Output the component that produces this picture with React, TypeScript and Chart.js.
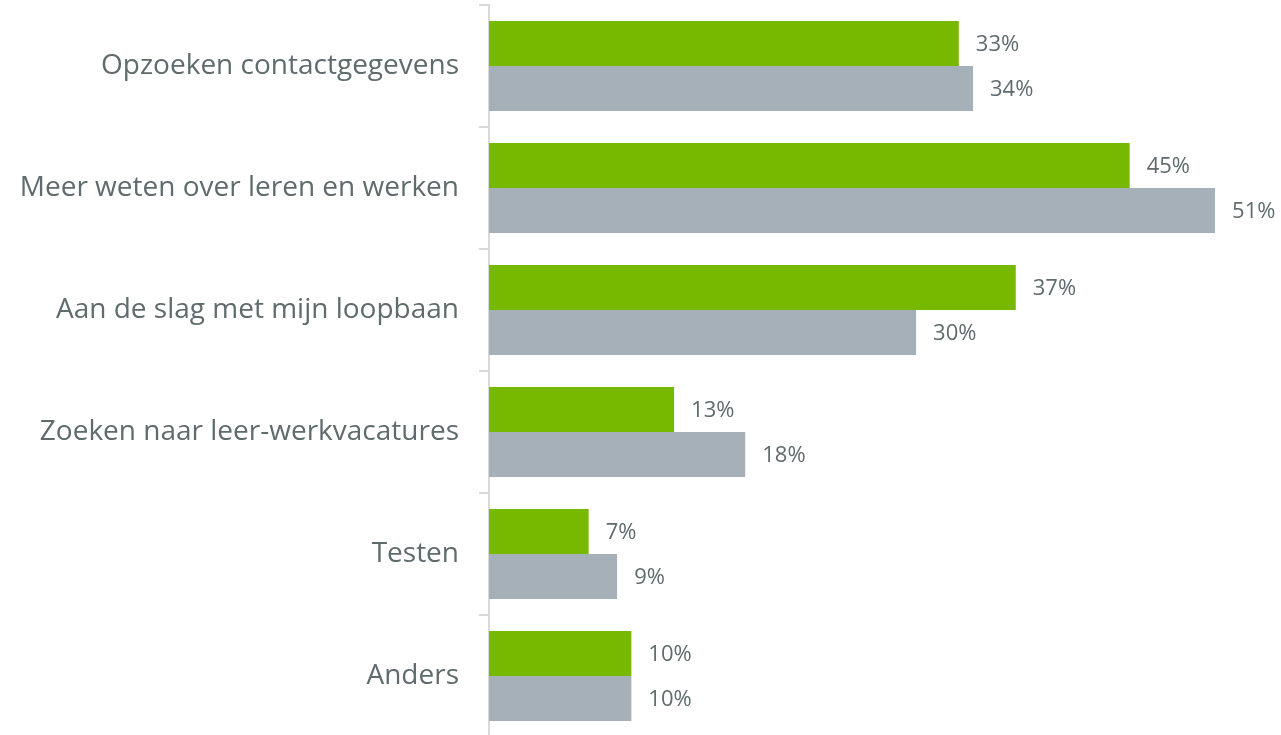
import React, { useEffect, useRef } from "react";
import { Chart, registerables } from "chart.js";

Chart.register(...registerables);

const categories = [
  "Opzoeken contactgegevens",
  "Meer weten over leren en werken",
  "Aan de slag met mijn loopbaan",
  "Zoeken naar leer-werkvacatures",
  "Testen",
  "Anders",
];
const seriesGreen = [33, 45, 37, 13, 7, 10];
const seriesGrey = [34, 51, 30, 18, 9, 10];

const GREEN = "#77B800";
const GREY = "#A5B0B8";
const TEXT = "#5F6B6D";
const FONT = "'Open Sans', sans-serif";

const valueLabels = {
  id: "valueLabels",
  afterDatasetsDraw(chart: any) {
    const ctx = chart.ctx;
    ctx.save();
    ctx.font = `22px ${FONT}`;
    ctx.fillStyle = TEXT;
    ctx.textAlign = "left";
    ctx.textBaseline = "middle";
    chart.data.datasets.forEach((ds: any, di: number) => {
      const meta = chart.getDatasetMeta(di);
      meta.data.forEach((bar: any, i: number) => {
        ctx.fillText(`${ds.data[i]}%`, bar.x + 17, bar.y + 1);
      });
    });
    ctx.restore();
  },
};

export default function App() {
  const ref = useRef<HTMLCanvasElement>(null);
  useEffect(() => {
    document.body.style.margin = "0";
    const chart = new Chart(ref.current!, {
      type: "bar",
      data: {
        labels: categories,
        datasets: [
          { data: seriesGreen, backgroundColor: GREEN },
          { data: seriesGrey, backgroundColor: GREY },
        ],
      },
      options: {
        indexAxis: "y",
        animation: false,
        responsive: false,
        maintainAspectRatio: false,
        datasets: { bar: { categoryPercentage: 0.738, barPercentage: 1 } },
        layout: { padding: { top: 5, right: 9, bottom: 2, left: 0 } },
        plugins: { legend: { display: false }, tooltip: { enabled: false } },
        scales: {
          x: { display: false, min: 0, max: 55 },
          y: {
            afterFit(scale: any) {
              scale.width = 489;
              scale.paddingTop = 0;
              scale.paddingBottom = 0;
            },
            border: { display: true, color: "#D9D9D9", width: 2 },
            grid: {
              display: true,
              drawOnChartArea: false,
              drawTicks: true,
              tickLength: 10,
              color: "#D9D9D9",
              lineWidth: 2,
              offset: true,
            },
            ticks: {
              color: TEXT,
              font: { family: FONT, size: 28 },
              padding: 20,
            },
          },
        },
      },
      plugins: [valueLabels],
    });
    return () => chart.destroy();
  }, []);
  return (
    <div style={{ position: "absolute", left: 0, top: 0, width: 1281, height: 735, overflow: "hidden" }}>
      <canvas ref={ref} width={1281} height={739} style={{ display: "block" }} />
    </div>
  );
}
